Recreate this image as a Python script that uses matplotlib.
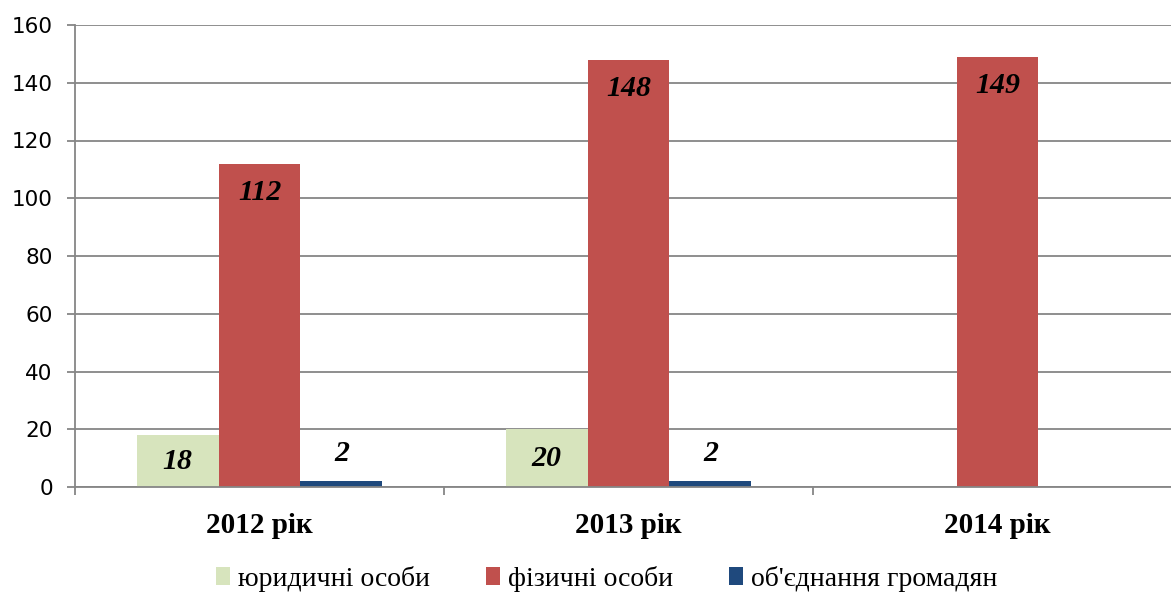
import matplotlib
matplotlib.use("Agg")
import matplotlib.pyplot as plt
import numpy as np

categories = ["2012 рік", "2013 рік", "2014 рік"]
series_names = ["юридичні особи", "фізичні особи", "об'єднання громадян"]
legal = [18, 20, None]
physical = [112, 148, 149]
unions = [2, 2, None]
yticks = [0, 20, 40, 60, 80, 100, 120, 140, 160]

colors = ["#D7E4BD", "#C0504D", "#1F497D"]
grid_c = "#868686"

fig = plt.figure(figsize=(11.71, 5.93), dpi=100)
ax = fig.add_axes([75/1171, 1-487/593, (1182-75)/1171, (487-25)/593])

x = np.arange(len(categories))
w = 0.222
series = [legal, physical, unions]
for i, (vals, col, name) in enumerate(zip(series, colors, series_names)):
    xs = [xi + (i-1)*w for xi, v in zip(x, vals) if v is not None]
    vs = [v for v in vals if v is not None]
    ax.bar(xs, vs, width=w, color=col, label=name, zorder=3, linewidth=0)
    for xv, v in zip(xs, vs):
        if i == 0:
            pos, off = (xv, v/2), 0
        elif i == 1:
            pos, off = (xv, v), -21
        else:
            pos, off = (xv, v), 20
        ax.annotate(str(v), pos, xytext=(0, off), textcoords="offset points",
                    ha="center", va="center", fontsize=21.5, fontweight="bold",
                    fontstyle="italic", family="Liberation Serif", zorder=4)

ax.set_xlim(-0.5, 2.5)
ax.set_ylim(0, 160)
ax.set_yticks(yticks)
ax.set_yticklabels([str(t) for t in yticks], fontsize=15.5, family="DejaVu Sans")
ax.yaxis.grid(True, color=grid_c, linewidth=1.3, zorder=0)
ax.set_xticks([-0.5, 0.5, 1.5, 2.5])
ax.set_xticklabels([])
ax.set_xticks(x, minor=True)
ax.set_xticklabels(categories, minor=True, fontsize=21, fontweight="bold", family="Liberation Serif")
ax.tick_params(axis="x", which="minor", length=0, pad=18)
ax.tick_params(axis="x", which="major", length=6, color=grid_c, width=1.3)
ax.tick_params(axis="y", length=6, color=grid_c, width=1.3, pad=10)
for s in ["top", "right"]:
    ax.spines[s].set_visible(False)
for s in ["left", "bottom"]:
    ax.spines[s].set_color(grid_c)
    ax.spines[s].set_linewidth(1.3)
    ax.spines[s].set_zorder(5)

leg = fig.legend(loc="lower center", bbox_to_anchor=(0.518, -0.04), ncol=3, frameon=False,
                 prop={"family": "Liberation Serif", "size": 20},
                 handlelength=0.5, handleheight=0.6, handletextpad=0.3, columnspacing=2.0)

fig.savefig("out.png", dpi=100)
